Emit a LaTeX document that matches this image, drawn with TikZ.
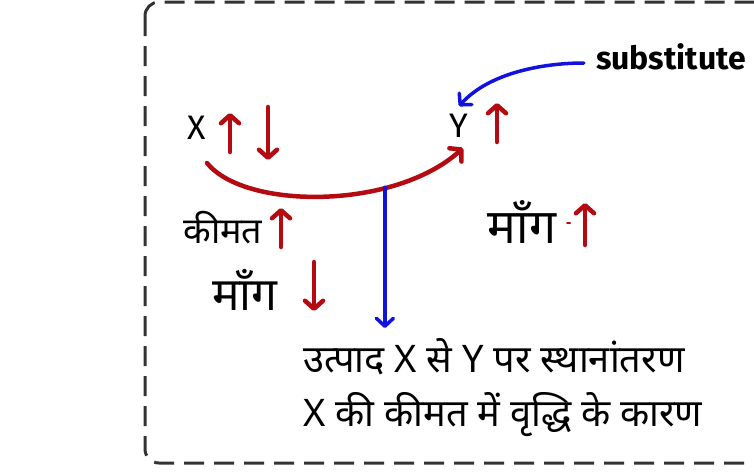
\documentclass[tikz,border=0pt]{standalone}
\usepackage{fontspec}
\setmainfont{Fira Sans}
\newfontfamily\deva[Script=Devanagari]{Noto Sans}
\usetikzlibrary{arrows.meta}
\definecolor{arrred}{HTML}{B40A12}
\definecolor{arrblue}{HTML}{1212E0}

\begin{document}
\begin{tikzpicture}[x=1pt, y=-1pt,
  redarr/.style={-{Straight Barb[round, length=8pt, width=18pt]}, line width=4.5pt, arrred, line cap=round},
  bluearr/.style={-{Straight Barb[round, length=8pt, width=17pt]}, line width=3.5pt, arrblue, line cap=round},
  frame/.style={draw=black!80, line width=3pt, dash pattern=on 20pt off 10pt, rounded corners=14pt},
  lat/.style={inner sep=0pt, font=\fontsize{34}{36}\selectfont},
  subst/.style={inner sep=0pt, font=\bfseries\fontsize{32}{34}\selectfont},
  hin/.style={inner sep=0pt, font=\deva\fontsize{#1}{#1}\selectfont}
]
\useasboundingbox (0,0) rectangle (754,472);
\clip (0,0) rectangle (754,472);
\draw[frame] (145,2) rectangle (800,463);

% goods and labels
\node[lat] (xlab) at (197,128) {X};
\node[lat] (ylab) at (459,126) {Y};
\node[subst] (subst) at (671,57) {substitute};
\node[hin=36] (price) at (223,228) {कीमत};
\node[hin=46] (demx) at (245,290) {माँग};
\node[hin=48] (demy) at (522,222) {माँग};
\node[hin=38, align=left, anchor=north west] (shift) at (303,338)
  {उत्पाद X से Y पर स्थानांतरण\\[16pt]X की कीमत में वृद्धि के कारण};

% up / down marks
\coordinate (xupa) at (230,152); \coordinate (xupb) at (230,113);
\coordinate (xdna) at (268,107); \coordinate (xdnb) at (268,160);
\coordinate (yupa) at (497,142); \coordinate (yupb) at (497,103);
\coordinate (prupa) at (281,247); \coordinate (prupb) at (281,208);
\coordinate (dxdna) at (314,262); \coordinate (dxdnb) at (314,311);
\coordinate (dyupa) at (585,245); \coordinate (dyupb) at (585,203);
\draw[redarr] (xupa) -- (xupb);
\draw[redarr] (xdna) -- (xdnb);
\draw[redarr] (yupa) -- (yupb);
\draw[redarr] (prupa) -- (prupb);
\draw[redarr] (dxdna) -- (dxdnb);
\draw[redarr] (dyupa) -- (dyupb);
\draw[arrred, line width=2pt, line cap=round] (567,223) -- (570,223);

% shift from X to Y
\coordinate (cstart) at (207,163);
\coordinate (cend) at (463,148);
\draw[redarr] (cstart) .. controls (245,210) and (395,210) .. (cend)
  coordinate[pos=0.7] (split);
\coordinate (shiftend) at (0,328);
\draw[bluearr] (split) -- (split |- shiftend);
\draw[bluearr] ([xshift=-12pt, yshift=-6pt]subst.west) .. controls (545,63) and (490,72) .. ([yshift=8pt]ylab.north);
\end{tikzpicture}
\end{document}
